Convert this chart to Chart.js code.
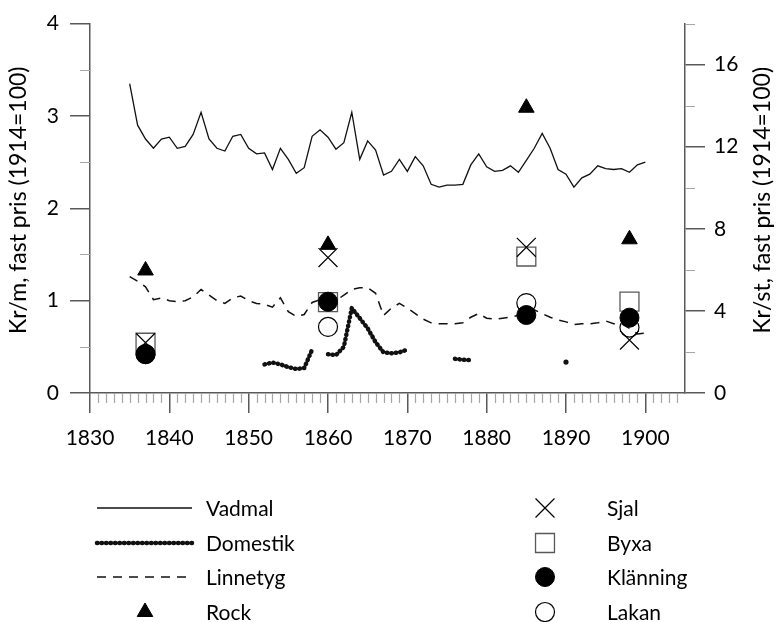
<!DOCTYPE html>
<html>
<head>
<meta charset="utf-8">
<script src="https://cdn.jsdelivr.net/npm/chart.js@4/dist/chart.umd.min.js"></script>
<style>
  html, body { margin: 0; padding: 0; background: #fff; }
  #chart { display: block; }
</style>
</head>
<body>
<canvas id="chart" width="779" height="622" style="width:779px;height:622px"></canvas>
<script>
// yearly series, 1835-1900 (Kr/m)
var years = [];
for (var yr = 1835; yr <= 1900; yr++) years.push(yr);

var vadmal = [3.35, 2.90, 2.75, 2.65, 2.75, 2.77, 2.65, 2.67, 2.80, 3.04,
              2.75, 2.65, 2.62, 2.78, 2.80, 2.65, 2.59, 2.60, 2.42, 2.65,
              2.53, 2.38, 2.44, 2.78, 2.85, 2.77, 2.64, 2.71, 3.04, 2.53,
              2.73, 2.63, 2.36, 2.40, 2.53, 2.40, 2.56, 2.46, 2.26, 2.23,
              2.25, 2.25, 2.26, 2.47, 2.59, 2.45, 2.40, 2.41, 2.46, 2.39,
              2.52, 2.65, 2.81, 2.65, 2.42, 2.37, 2.23, 2.33, 2.37, 2.46,
              2.43, 2.42, 2.43, 2.39, 2.47, 2.50];

var domestik = [null, null, null, null, null, null, null, null, null, null,
                null, null, null, null, null, null, null, 0.31, 0.33, 0.31,
                0.28, 0.26, 0.27, 0.47, null, 0.42, 0.41, 0.50, 0.92, 0.81,
                0.70, 0.55, 0.44, 0.43, 0.44, 0.47, null, null, null, null,
                null, 0.37, 0.36, 0.355, null, null, null, null, null, null,
                null, null, null, null, null, 0.335, null, null, null, null,
                null, null, null, null, null, null];

var linnetyg = [1.26, 1.21, 1.15, 1.01, 1.03, 1.00, 0.99, 1.00, 1.04, 1.12,
                1.06, 1.00, 0.97, 1.03, 1.05, 1.00, 0.97, 0.96, 0.93, 1.03,
                0.88, 0.83, 0.85, 0.98, 1.01, 0.98, 1.00, 1.06, 1.12, 1.14,
                1.14, 1.08, 0.84, 0.92, 0.97, 0.92, 0.86, 0.80, 0.76, 0.75,
                0.75, 0.75, 0.76, 0.82, 0.86, 0.81, 0.80, 0.81, 0.82, 0.84,
                0.86, 0.90, 0.86, 0.82, 0.79, 0.77, 0.74, 0.75, 0.75, 0.76,
                0.78, 0.75, 0.75, 0.70, 0.64, 0.65];

// single garments (Kr/st, right axis)
var markYears = [1837, 1860, 1885, 1898];
var rock     = [5.97, 7.22, 13.9, 7.49];
var sjal     = [2.45, 6.6, 7.1, 2.58];
var byxa     = [2.45, 4.43, 6.65, 4.45];
var klanning = [1.89, 4.45, 3.8, 3.67];
var lakan    = [1.89, 3.22, 4.38, 3.19];

var leftTitle = 'Kr/m, fast pris (1914=100)';
var rightTitle = 'Kr/st, fast pris (1914=100)';

function pts(xs, ys) {
  return xs.map(function (x, i) { return { x: x, y: ys[i] }; });
}

var FONT = 'Lato, "Open Sans", sans-serif';
var AXIS = '#595959';
var MINOR = '#a6a6a6';

function loneDot(ctx) {
  var d = ctx.dataset.data, i = ctx.dataIndex;
  if (d[i].y == null) return 0;
  var prev = i > 0 ? d[i - 1].y : null, next = i < d.length - 1 ? d[i + 1].y : null;
  return (prev == null && next == null) ? 2.6 : 0;
}

var minorTicks = {
  id: 'minorTicks',
  afterDraw: function (chart) {
    var ctx = chart.ctx, x = chart.scales.x, y = chart.scales.y, y2 = chart.scales.y2;
    var a = chart.chartArea;
    ctx.save();
    ctx.strokeStyle = MINOR;
    ctx.lineWidth = 1.2;
    ctx.beginPath();
    for (var v = 1831; v <= 1904; v++) {
      if (v % 10 === 0) continue;
      var px = Math.round(x.getPixelForValue(v)) + 0.5;
      ctx.moveTo(px, a.bottom); ctx.lineTo(px, a.bottom + 10);
    }
    [0.5, 1.5, 2.5, 3.5].forEach(function (v) {
      var py = Math.round(y.getPixelForValue(v)) + 0.5;
      ctx.moveTo(a.left - 10, py); ctx.lineTo(a.left, py);
    });
    [2, 6, 10, 14, 18].forEach(function (v) {
      var py = Math.round(y2.getPixelForValue(v)) + 0.5;
      ctx.moveTo(a.right, py); ctx.lineTo(a.right + 10, py);
    });
    ctx.stroke();
    ctx.restore();
  }
};

var axisTitles = {
  id: 'axisTitles',
  afterDraw: function (chart) {
    var ctx = chart.ctx, a = chart.chartArea;
    var mid = (a.top + a.bottom) / 2 - 8;
    ctx.save();
    ctx.fillStyle = '#000';
    ctx.font = '23px ' + FONT;
    ctx.textAlign = 'center';
    ctx.textBaseline = 'middle';
    [[19, leftTitle], [763, rightTitle]].forEach(function (t) {
      ctx.save();
      ctx.translate(t[0], mid);
      ctx.rotate(-Math.PI / 2);
      ctx.fillText(t[1], 0, 0);
      ctx.restore();
    });
    ctx.restore();
  }
};

var legendBlock = {
  id: 'legendBlock',
  afterDraw: function (chart) {
    var ctx = chart.ctx;
    var ds = chart.data.datasets;
    var rowsY = [508, 543, 577, 612];
    ctx.save();
    ctx.font = '21px ' + FONT;
    ctx.textBaseline = 'middle';
    ctx.fillStyle = '#000';
    ds.forEach(function (d, i) {
      var col = i < 4 ? 0 : 1;
      var cy = rowsY[i % 4];
      var tx = col === 0 ? 206 : 607;
      ctx.save();
      if (d.showLine !== false) {
        ctx.strokeStyle = d.borderColor;
        ctx.lineWidth = d.borderWidth;
        ctx.lineCap = d.borderCapStyle || 'butt';
        ctx.setLineDash(d.borderDash || []);
        ctx.beginPath();
        ctx.moveTo(97, cy); ctx.lineTo(192, cy);
        ctx.stroke();
      } else {
        var cx = col === 0 ? 145 : 545;
        ctx.fillStyle = d.backgroundColor;
        ctx.strokeStyle = d.borderColor;
        ctx.lineWidth = d.borderWidth;
        Chart.helpers.drawPoint(ctx, {
          pointStyle: d.pointStyle, radius: d.pointRadius, rotation: 0, borderWidth: d.borderWidth
        }, cx, cy);
      }
      ctx.restore();
      ctx.fillText(d.label, tx, cy + 1);
    });
    ctx.restore();
  }
};

var chart = new Chart(document.getElementById('chart'), {
  type: 'line',
  data: {
    datasets: [{
      label: 'Vadmal',
      data: pts(years, vadmal),
      yAxisID: 'y',
      borderColor: '#111',
      borderWidth: 1.3,
      pointRadius: 0,
      order: 8
    }, {
      label: 'Domestik',
      data: pts(years, domestik),
      yAxisID: 'y',
      borderColor: '#111',
      backgroundColor: '#111',
      borderWidth: 4.5,
      borderDash: [0.5, 4],
      borderCapStyle: 'round',
      borderJoinStyle: 'round',
      pointRadius: loneDot,
      pointBorderWidth: 0,
      spanGaps: false,
      order: 7
    }, {
      label: 'Linnetyg',
      data: pts(years, linnetyg),
      yAxisID: 'y',
      borderColor: '#111',
      borderWidth: 1.5,
      borderDash: [9, 7],
      pointRadius: 0,
      order: 6
    }, {
      label: 'Rock',
      data: pts(markYears, rock),
      yAxisID: 'y2',
      showLine: false,
      pointStyle: 'triangle',
      pointRadius: 9,
      backgroundColor: '#000',
      borderColor: '#000',
      borderWidth: 1,
      order: 1
    }, {
      label: 'Sjal',
      data: pts(markYears, sjal),
      yAxisID: 'y2',
      showLine: false,
      pointStyle: 'crossRot',
      pointRadius: 13.4,
      backgroundColor: 'rgba(0,0,0,0)',
      borderColor: '#000',
      borderWidth: 1.2,
      order: 2
    }, {
      label: 'Byxa',
      data: pts(markYears, byxa),
      yAxisID: 'y2',
      showLine: false,
      pointStyle: 'rect',
      pointRadius: 13.4,
      backgroundColor: 'rgba(0,0,0,0)',
      borderColor: '#595959',
      borderWidth: 1.3,
      order: 4
    }, {
      label: 'Klänning',
      data: pts(markYears, klanning),
      yAxisID: 'y2',
      showLine: false,
      pointStyle: 'circle',
      pointRadius: 9.5,
      backgroundColor: '#000',
      borderColor: '#000',
      borderWidth: 1,
      order: 0
    }, {
      label: 'Lakan',
      data: pts(markYears, lakan),
      yAxisID: 'y2',
      showLine: false,
      pointStyle: 'circle',
      pointRadius: 9.5,
      backgroundColor: 'rgba(0,0,0,0)',
      borderColor: '#000',
      borderWidth: 1.2,
      order: 3
    }]
  },
  options: {
    responsive: false,
    devicePixelRatio: 1,
    animation: false,
    events: [],
    layout: { padding: { top: 19, left: 0, right: 0, bottom: 0 } },
    plugins: { legend: { display: false }, tooltip: { enabled: false } },
    scales: {
      x: {
        type: 'linear',
        min: 1830,
        max: 1905,
        afterFit: function (s) { s.height = 229; },
        border: { color: AXIS, width: 1.5 },
        grid: { drawOnChartArea: false, tickLength: 20, lineWidth: 1.5, color: AXIS },
        ticks: {
          stepSize: 10,
          includeBounds: false,
          autoSkip: false,
          maxRotation: 0,
          padding: 13,
          color: '#000',
          font: { family: FONT, size: 21 },
          callback: function (v) { return String(v); }
        }
      },
      y: {
        position: 'left',
        min: 0,
        max: 4,
        afterFit: function (s) { s.width = 90; },
        border: { color: AXIS, width: 1.5 },
        grid: { drawOnChartArea: false, tickLength: 20, lineWidth: 1.5, color: AXIS },
        ticks: { stepSize: 1, padding: 11, color: '#000', font: { family: FONT, size: 21 } }
      },
      y2: {
        position: 'right',
        min: 0,
        max: 18,
        afterFit: function (s) { s.width = 94; },
        border: { color: AXIS, width: 1.5 },
        grid: { drawOnChartArea: false, tickLength: 20, lineWidth: 1.5, color: AXIS },
        ticks: {
          stepSize: 4,
          includeBounds: false,
          padding: 9,
          color: '#000',
          font: { family: FONT, size: 21 }
        }
      }
    }
  },
  plugins: [minorTicks, axisTitles, legendBlock]
});
</script>
</body>
</html>
